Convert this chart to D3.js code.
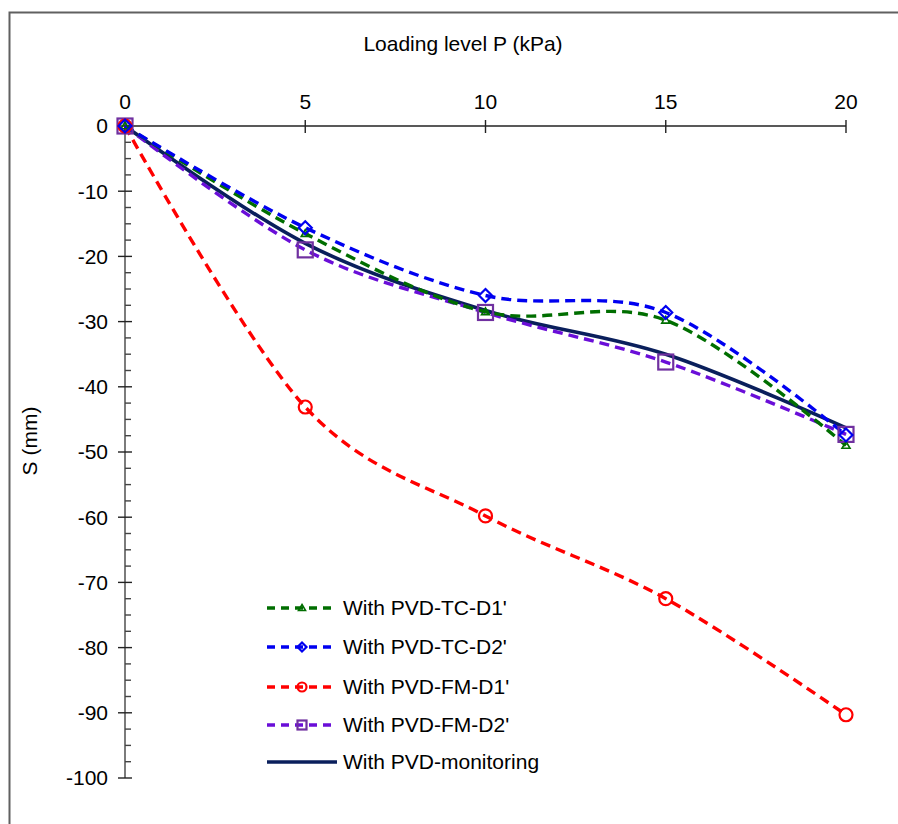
<!DOCTYPE html>
<html>
<head>
<meta charset="utf-8">
<script src="https://cdn.jsdelivr.net/npm/d3@7"></script>
<style>
  body { margin: 0; background: #fff; }
  svg text { font-family: "Liberation Sans", Arial, sans-serif; fill: #000; }
</style>
</head>
<body>
<div id="div_chart"></div>
<script>
// Data
var loads = [0, 5, 10, 15, 20];
var tcD1 = [0, -16.5, -28.5, -29.8, -49.0];
var tcD2 = [0, -15.6, -26.0, -28.6, -47.4];
var fmD1 = [0, -43.1, -59.8, -72.5, -90.3];
var fmD2 = [0, -19.0, -28.6, -36.2, -47.3];
var monitoring = [0, -18.0, -28.3, -35.0, -46.3];
var xTicks = [0, 5, 10, 15, 20];
var yTicks = [0, -10, -20, -30, -40, -50, -60, -70, -80, -90, -100];

var series = [
    {name: "With PVD-TC-D1'", values: tcD1, color: "#006e00", dash: "10,6", marker: "triangle", mcolor: "#006e00"},
    {name: "With PVD-TC-D2'", values: tcD2, color: "#0000f0", dash: "10,6", marker: "diamond", mcolor: "#0000f0"},
    {name: "With PVD-FM-D1'", values: fmD1, color: "#ff0000", dash: "10,6", marker: "circle", mcolor: "#ff0000"},
    {name: "With PVD-FM-D2'", values: fmD2, color: "#6a0ed8", dash: "10,6", marker: "square", mcolor: "#7030a0"},
    {name: "With PVD-monitoring", values: monitoring, color: "#0a1f5c", dash: null, marker: null}
];

var svgWidth = 898, svgHeight = 824;
var svg = d3.select("#div_chart").append("svg")
    .attr("width", svgWidth)
    .attr("height", svgHeight);

// outer frame
svg.append("path")
    .attr("d", "M9.5," + svgHeight + "V12.5H" + svgWidth)
    .attr("fill", "none")
    .attr("stroke", "#606060")
    .attr("stroke-width", 2);

var x = d3.scaleLinear().domain([0, 20]).range([125, 846]);
var y = d3.scaleLinear().domain([0, -100]).range([126, 778]);

// Y axis
var yAxis = svg.append("g");
yAxis.append("line")
    .attr("x1", x(0)).attr("x2", x(0))
    .attr("y1", y(0)).attr("y2", y(-100))
    .attr("stroke", "#444").attr("stroke-width", 1.4);
var minor = d3.range(0, -100, -2.5).filter(function (v) { return v % 10 !== 0; });
yAxis.selectAll("minorTick").data(minor).enter().append("line")
    .attr("x1", x(0)).attr("x2", x(0) + 6)
    .attr("y1", d => y(d)).attr("y2", d => y(d))
    .attr("stroke", "#444").attr("stroke-width", 1.4);
yAxis.selectAll("majorTick").data(yTicks).enter().append("line")
    .attr("x1", x(0) - 7).attr("x2", x(0) + 7)
    .attr("y1", d => y(d)).attr("y2", d => y(d))
    .attr("stroke", "#222").attr("stroke-width", 1.4);
yAxis.selectAll("yLabel").data(yTicks).enter().append("text")
    .attr("x", x(0) - 17)
    .attr("y", d => y(d))
    .attr("dy", "0.35em")
    .attr("text-anchor", "end")
    .style("font-size", "21px")
    .text(d => d);

// X axis along the top
var xAxis = svg.append("g");
xAxis.append("line")
    .attr("x1", x(0)).attr("x2", x(20))
    .attr("y1", y(0)).attr("y2", y(0))
    .attr("stroke", "#222").attr("stroke-width", 1.4);
xAxis.selectAll("xTick").data(xTicks).enter().append("line")
    .attr("x1", d => x(d)).attr("x2", d => x(d))
    .attr("y1", y(0) - 6).attr("y2", y(0) + 7)
    .attr("stroke", "#222").attr("stroke-width", 1.4);
xAxis.selectAll("xLabel").data(xTicks).enter().append("text")
    .attr("x", d => x(d))
    .attr("y", 109)
    .attr("text-anchor", "middle")
    .style("font-size", "21px")
    .text(d => d);

// axis titles
svg.append("text")
    .attr("x", 463).attr("y", 51)
    .attr("text-anchor", "middle")
    .style("font-size", "21px")
    .text("Loading level P (kPa)");
svg.append("text")
    .attr("transform", "translate(37,441)rotate(-90)")
    .attr("text-anchor", "middle")
    .style("font-size", "21px")
    .text("S (mm)");

// curves (Excel-like smoothing)
var line = d3.line()
    .x(function (d, i) { return x(loads[i]); })
    .y(function (d) { return y(d); })
    .curve(d3.curveCatmullRom.alpha(0));

var drawOrder = [4, 3, 2, 0, 1];
drawOrder.forEach(function (k) {
    var s = series[k];
    svg.append("path")
        .attr("d", line(s.values))
        .attr("fill", "none")
        .attr("stroke", s.color)
        .attr("stroke-width", s.dash ? 3.4 : 3.6)
        .attr("stroke-dasharray", s.dash);
});

function drawMarker(g, type, cx, cy, color, size) {
    if (type === "circle") {
        g.append("circle").attr("cx", cx).attr("cy", cy).attr("r", size * 0.5)
            .attr("fill", "none").attr("stroke", color).attr("stroke-width", 2.2);
    } else if (type === "square") {
        g.append("rect").attr("x", cx - size / 2).attr("y", cy - size / 2)
            .attr("width", size).attr("height", size)
            .attr("fill", "none").attr("stroke", color).attr("stroke-width", 2.2);
    } else if (type === "diamond") {
        var h = size / 2;
        g.append("path")
            .attr("d", "M" + cx + "," + (cy - h) + "L" + (cx + h) + "," + cy + "L" + cx + "," + (cy + h) + "L" + (cx - h) + "," + cy + "Z")
            .attr("fill", "none").attr("stroke", color).attr("stroke-width", 2.2);
    } else if (type === "triangle") {
        var t = size / 2;
        g.append("path")
            .attr("d", "M" + cx + "," + (cy - t) + "L" + (cx + t) + "," + (cy + t * 0.7) + "L" + (cx - t) + "," + (cy + t * 0.7) + "Z")
            .attr("fill", "none").attr("stroke", color).attr("stroke-width", 1.6);
    }
}

// markers
var markerSize = {triangle: 8, diamond: 13, circle: 13, square: 15};
var marks = svg.append("g");
[3, 2, 0, 1].forEach(function (k) {
    var s = series[k];
    s.values.forEach(function (v, i) {
        drawMarker(marks, s.marker, x(loads[i]), y(v), s.mcolor, markerSize[s.marker]);
    });
});

// legend
var legendY = [608, 647, 687, 725, 762];
var legend = svg.append("g");
series.forEach(function (s, i) {
    var ly = legendY[i];
    legend.append("line")
        .attr("x1", 267).attr("x2", 337)
        .attr("y1", ly).attr("y2", ly)
        .attr("stroke", s.color)
        .attr("stroke-width", 3.4)
        .attr("stroke-dasharray", s.dash ? "8,6" : null);
    if (s.marker) drawMarker(legend, s.marker, 302, ly, s.mcolor, s.marker === "triangle" ? 7 : 9);
    legend.append("text")
        .attr("x", 343).attr("y", ly)
        .attr("dy", "0.35em")
        .style("font-size", "21px")
        .text(s.name);
});
</script>
</body>
</html>
